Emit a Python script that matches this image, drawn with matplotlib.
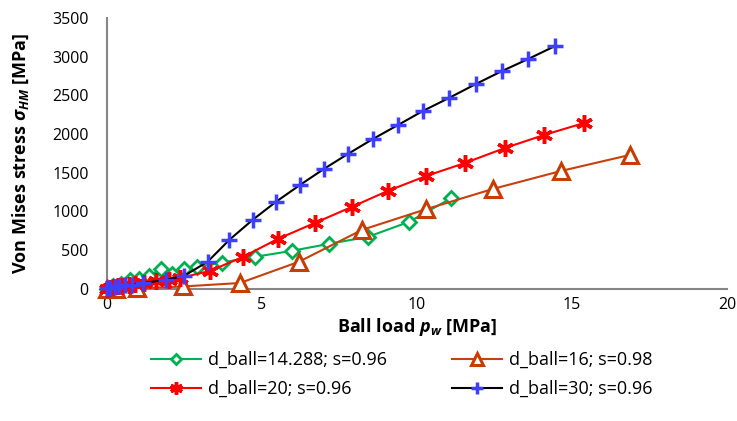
"""Von Mises stress against ball load for four ball sizes."""

import matplotlib
matplotlib.use("Agg")
import matplotlib.pyplot as plt

plt.rcParams["font.family"] = ["Open Sans", "DejaVu Sans"]
plt.rcParams["mathtext.fontset"] = "custom"
plt.rcParams["mathtext.rm"] = "Open Sans"
plt.rcParams["mathtext.it"] = "Open Sans:italic"
plt.rcParams["mathtext.bf"] = "Open Sans:bold"
plt.rcParams["mathtext.bfit"] = "Open Sans:bold:italic"

# d_ball = 14.288, s = 0.96
load_14 = [0, 0.2, 0.45, 0.75, 1.05, 1.35, 1.75, 2.1, 2.5, 2.9, 3.71, 4.77,
           5.97, 7.16, 8.42, 9.74, 11.1]
stress_14 = [0, 40, 60, 110, 130, 170, 250, 190, 250, 280, 340, 413,
             491, 581, 672, 865, 1170]

# d_ball = 16, s = 0.98
load_16 = [0, 0.3, 0.97, 2.45, 4.29, 6.19, 8.23, 10.3, 12.45, 14.65, 16.87]
stress_16 = [0, 3, 5, 30, 75, 349, 762, 1030, 1291, 1524, 1731]

# d_ball = 20, s = 0.96
load_20 = [0, 0.1, 0.2, 0.35, 0.5, 0.7, 0.9, 1.2, 1.6, 2.0, 2.35, 3.32,
           4.39, 5.52, 6.71, 7.9, 9.06, 10.3, 11.55, 12.84, 14.1, 15.39]
stress_20 = [0, 10, 20, 30, 40, 50, 60, 75, 95, 120, 140, 230,
             413, 646, 852, 1059, 1266, 1459, 1627, 1821, 1989, 2144]

# d_ball = 30, s = 0.96
load_30 = [0, 0.1, 0.25, 0.4, 0.6, 0.8, 1.15, 1.9, 2.5, 3.25, 3.95, 4.7,
           5.45, 6.23, 7.0, 7.77, 8.58, 9.39, 10.19, 11.03, 11.9, 12.74,
           13.58, 14.45]
stress_30 = [5, 15, 25, 35, 45, 55, 75, 115, 170, 350, 633, 891,
             1124, 1343, 1550, 1743, 1937, 2118, 2299, 2467, 2648, 2815,
             2970, 3138]

x_ticks = [0, 5, 10, 15, 20]
y_ticks = [0, 500, 1000, 1500, 2000, 2500, 3000, 3500]

fig = plt.figure(figsize=(7.37, 4.21), dpi=100)
ax = fig.add_axes([0.145, 0.314, 0.8415, 0.643])

line_14, = ax.plot(load_14, stress_14, color="#00B050", linewidth=1.5,
                   marker="D", markersize=7, markerfacecolor="white",
                   markeredgecolor="#00B050", markeredgewidth=2,
                   clip_on=False, label="d_ball=14.288; s=0.96")
line_16, = ax.plot(load_16, stress_16, color="#C8400C", linewidth=1.5,
                   marker="^", markersize=11, markerfacecolor="white",
                   markeredgecolor="#C83C00", markeredgewidth=2.2,
                   clip_on=False, label="d_ball=16; s=0.98")
line_20, = ax.plot(load_20, stress_20, color="#FF0000", linewidth=1.5,
                   marker=(6, 2, 0), markersize=12, markeredgecolor="#FF0000",
                   markeredgewidth=2.5, clip_on=False,
                   label="d_ball=20; s=0.96")
line_30, = ax.plot(load_30, stress_30, color="black", linewidth=1.5,
                   marker="+", markersize=11, markeredgecolor="#3F3FFF",
                   markeredgewidth=2.5, clip_on=False,
                   label="d_ball=30; s=0.96")

ax.set_xlim(0, 20)
ax.set_ylim(0, 3500)
ax.set_xticks(x_ticks)
ax.set_yticks(y_ticks)
ax.tick_params(length=0, labelsize=11.5)
ax.tick_params(axis="x", pad=6)
ax.tick_params(axis="y", pad=13)
for side in ("top", "right"):
    ax.spines[side].set_visible(False)
for side in ("left", "bottom"):
    ax.spines[side].set_color("#868686")
    ax.spines[side].set_linewidth(1.5)
    ax.spines[side].set_zorder(0.5)

ax.set_xlabel(r"Ball load $\mathbfit{p}_\mathbfit{w}$ [MPa]", fontsize=13,
              fontweight="bold", labelpad=2)
ax.set_ylabel(r"Von Mises stress $\mathbfit{\sigma}_\mathbfit{HM}$ [MPa]",
              fontsize=13, fontweight="bold", labelpad=15)

# matplotlib fills legend columns first, so order for rows 14|16, 20|30
ax.legend(handles=[line_14, line_20, line_16, line_30],
          loc="upper center", bbox_to_anchor=(0.475, -0.17), ncol=2,
          frameon=False, fontsize=13, handlelength=2.8, columnspacing=3.6,
          labelspacing=0.6, handletextpad=0.35, markerscale=0.75)

fig.savefig("out.png", dpi=100)
